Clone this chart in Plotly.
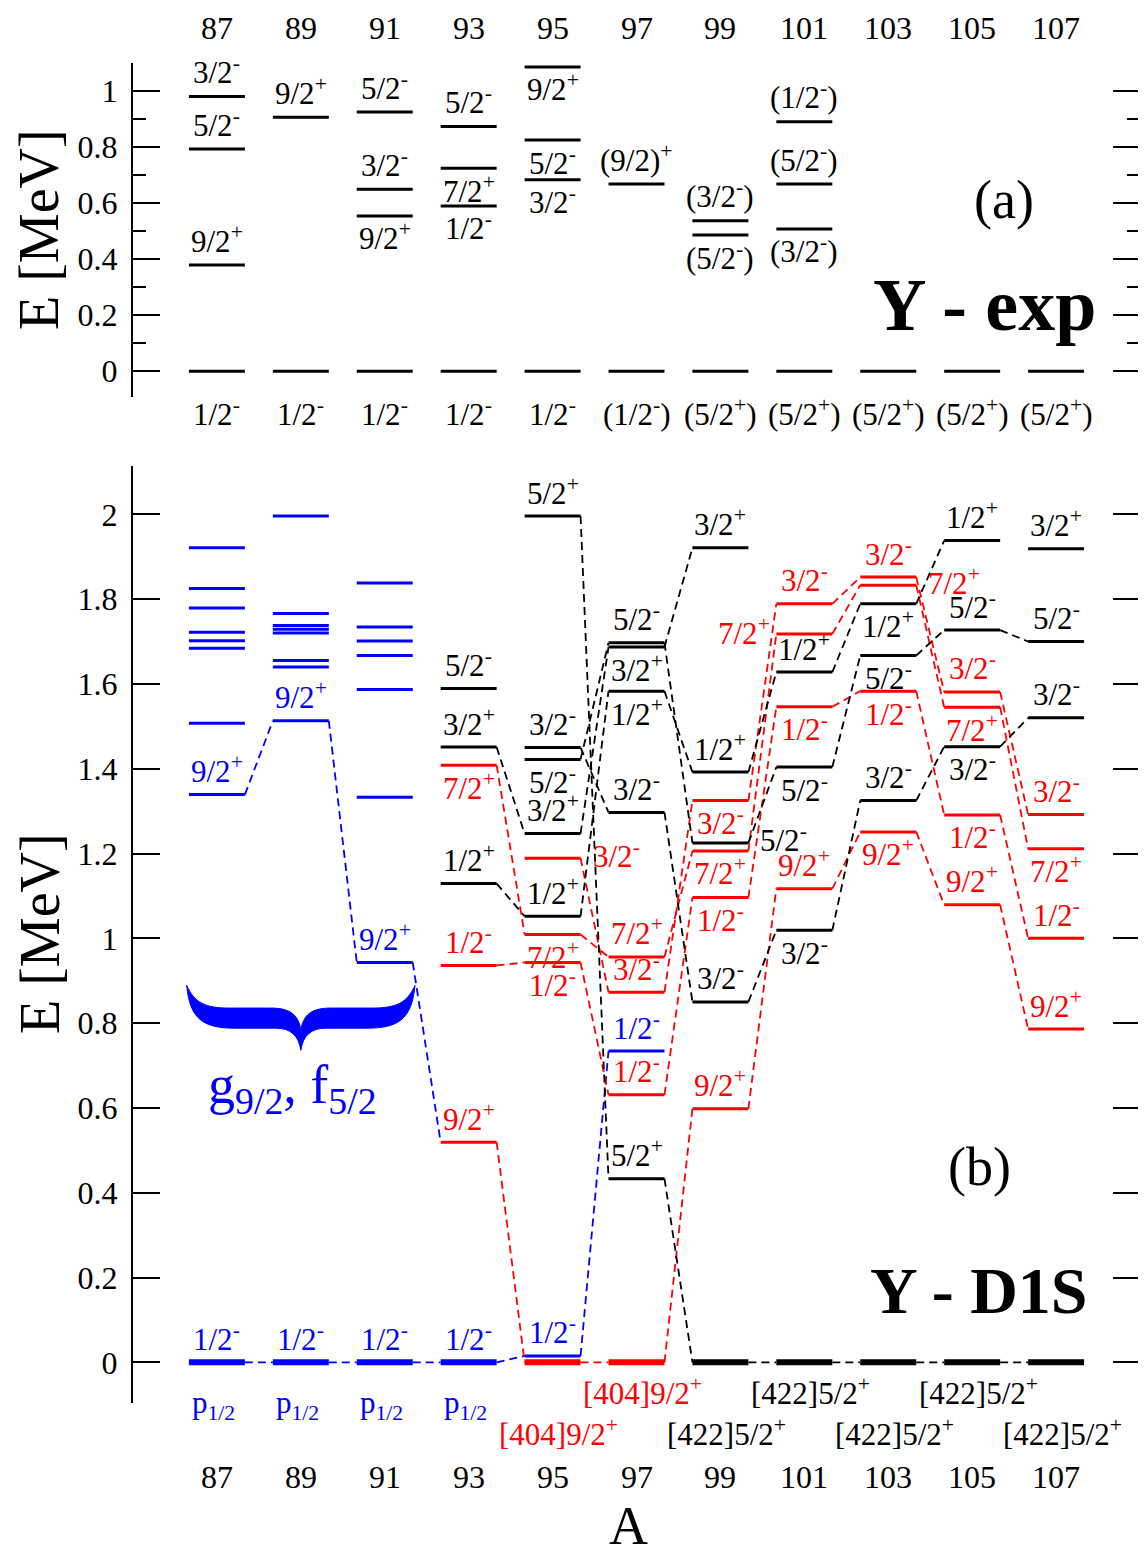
import plotly.graph_objects as go

# ---------------- data ----------------
A_LIST = [87, 89, 91, 93, 95, 97, 99, 101, 103, 105, 107]

# panel (a): experimental levels
exp_A = [87, 87, 87, 87,
         89, 89,
         91, 91, 91, 91,
         93, 93, 93, 93,
         95, 95, 95, 95,
         97, 97,
         99, 99, 99,
         101, 101, 101, 101,
         103, 105, 107]
exp_E = [0.0, 0.379, 0.793, 0.980,
         0.0, 0.906,
         0.0, 0.554, 0.649, 0.925,
         0.0, 0.590, 0.724, 0.873,
         0.0, 0.683, 0.825, 1.086,
         0.0, 0.668,
         0.0, 0.486, 0.537,
         0.0, 0.508, 0.668, 0.890,
         0.0, 0.0, 0.0]
exp_J = ["1/2-", "9/2+", "5/2-", "3/2-",
         "1/2-", "9/2+",
         "1/2-", "9/2+", "3/2-", "5/2-",
         "1/2-", "1/2-", "7/2+", "5/2-",
         "1/2-", "3/2-", "5/2-", "9/2+",
         "(1/2-)", "(9/2)+",
         "(5/2+)", "(5/2-)", "(3/2-)",
         "(5/2+)", "(3/2-)", "(5/2-)", "(1/2-)",
         "(5/2+)", "(5/2+)", "(5/2+)"]

# panel (b): D1S levels
blue_A = [87] * 9 + [89] * 9 + [91] * 8 + [93, 95, 97]
blue_E = [0.0, 1.339, 1.507, 1.684, 1.702, 1.722, 1.779, 1.825, 1.921,
          0.0, 1.513, 1.640, 1.655, 1.720, 1.729, 1.738, 1.766, 1.996,
          0.0, 0.943, 1.333, 1.587, 1.667, 1.701, 1.734, 1.838,
          0.0, 0.015, 0.734]
blue_J = ["1/2-", "9/2+", "", "", "", "", "", "", "",
          "1/2-", "9/2+", "", "", "", "", "", "", "",
          "1/2-", "9/2+", "", "", "", "", "", "",
          "1/2-", "1/2-", "1/2-"]
blue_band = ["p", "g", None, None, None, None, None, None, None,
             "p", "g", None, None, None, None, None, None, None,
             "p", "g", None, None, None, None, None, None,
             "p", "p", "p"]

red_A = [93, 93, 93,
         95, 95, 95, 95,
         97, 97, 97, 97,
         99, 99, 99, 99,
         101, 101, 101, 101,
         103, 103, 103, 103,
         105, 105, 105, 105,
         107, 107, 107, 107]
red_E = [1.408, 0.936, 0.519,
         1.189, 1.009, 0.943, 0.0,
         0.956, 0.873, 0.631, 0.0,
         1.325, 1.206, 1.096, 0.598,
         1.789, 1.718, 1.546, 1.117,
         1.852, 1.833, 1.583, 1.251,
         1.581, 1.545, 1.291, 1.079,
         1.292, 1.211, 1.000, 0.786]
red_J = ["7/2+", "1/2-", "9/2+",
         "3/2-", "7/2+", "1/2-", "[404]9/2+",
         "7/2+", "3/2-", "1/2-", "[404]9/2+",
         "3/2-", "7/2+", "1/2-", "9/2+",
         "3/2-", "7/2+", "1/2-", "9/2+",
         "3/2-", "7/2+", "1/2-", "9/2+",
         "3/2-", "7/2+", "1/2-", "9/2+",
         "3/2-", "7/2+", "1/2-", "9/2+"]
red_band = ["r7", "r1", "g",
            "r3", "r7", "r1", "g",
            "r7", "r3", "r1", "g",
            "r3", "r7", "r1", "g",
            "r3", "r7", "r1", "g",
            "r3", "r7", "r1", "g",
            "r3", "r7", "r1", "g",
            "r3", "r7", "r1", "g"]

black_A = [93, 93, 93,
           95, 95, 95, 95, 95,
           97, 97, 97, 97, 97,
           99, 99, 99, 99, 99,
           101, 101, 101, 101,
           103, 103, 103, 103,
           105, 105, 105, 105,
           107, 107, 107, 107]
black_E = [1.589, 1.451, 1.129,
           1.996, 1.450, 1.422, 1.247, 1.052,
           1.697, 1.687, 1.583, 1.297, 0.433,
           1.921, 1.392, 1.225, 0.850, 0.0,
           1.628, 1.404, 1.019, 0.0,
           1.789, 1.667, 1.325, 0.0,
           1.938, 1.727, 1.452, 0.0,
           1.919, 1.700, 1.520, 0.0]
black_J = ["5/2-", "3/2+", "1/2+",
           "5/2+", "3/2-", "5/2-", "3/2+", "1/2+",
           "5/2-", "3/2+", "1/2+", "3/2-", "5/2+",
           "3/2+", "1/2+", "5/2-", "3/2-", "[422]5/2+",
           "1/2+", "5/2-", "3/2-", "[422]5/2+",
           "1/2+", "5/2-", "3/2-", "[422]5/2+",
           "1/2+", "5/2-", "3/2-", "[422]5/2+",
           "3/2+", "5/2-", "3/2-", "[422]5/2+"]
black_band = [None, "k3p", "k1p",
              "k5p", "k3m", "k5m", "k3p", "k1p",
              "k5m", "k3p", "k1p", "k3m", "k5p",
              "k3p", "k1p", "k5m", "k3m", "k5p",
              "k1p", "k5m", "k3m", "k5p",
              "k1p", "k5m", "k3m", "k5p",
              "k1p", "k5m", "k3m", "k5p",
              None, "k5m", "k3m", "k5p"]

ORBITAL_LABEL = "p<sub>1/2</sub>"
BRACE_LABEL = "g<sub>9/2</sub>, f<sub>5/2</sub>"

# ---------------- styles (label placement codes) ----------------
exp_pos = ["G", "a", "a", "a",
           "G", "a",
           "G", "b", "a", "a",
           "G", "b", "b", "a",
           "G", "b", "b", "b",
           "G", "a",
           "G", "b", "a",
           "G", "b", "a", "a",
           "G", "G", "G"]
blue_pos = ["a"] * 29
red_pos = ["b", "a", "a",
           "r", "b", "b", "G2",
           "a", "a", "a", "G1",
           "b", "b", "b", "a",
           "a", "l", "b", "a",
           "a", "r", "b", "b",
           "a", "b", "b", "a",
           "a", "b", "a", "a"]
black_pos = ["a", "a", "a",
             "a", "a", "b", "a", "a",
             "a", "b", "b", "a", "a",
             "a", "a", "r", "a", "G2",
             "a", "b", "b", "G1",
             "b", "b", "a", "G2",
             "a", "a", "b", "G1",
             "a", "a", "a", "G2"]

BLUE, RED, BLACK = "#0000ff", "#ff0000", "#000000"
HW = 0.667          # half width of a level bar (in A units)
FONT = "Liberation Serif"
LSIZE = 31
OFF = 8             # page body margin of the browser
W, H = 1146 - OFF, 1558 - OFF

def py(screen_y):
    """paper fraction for a vertical screen position"""
    return 1 - (screen_y - OFF) / H

def fmt(j):
    return j.replace("+", "<sup>+</sup>").replace("-", "<sup>-</sup>")

fig = go.Figure()
annotations = []

def add_levels(A, E, color, xa, ya, width=3, gs_width=3):
    xs, ys, xg, yg = [], [], [], []
    for a, e in zip(A, E):
        if e == 0:
            xg += [a - HW, a + HW, None]; yg += [e, e, None]
        else:
            xs += [a - HW, a + HW, None]; ys += [e, e, None]
    fig.add_trace(go.Scatter(x=xs, y=ys, mode="lines", xaxis=xa, yaxis=ya,
                             line=dict(color=color, width=width), hoverinfo="skip"))
    fig.add_trace(go.Scatter(x=xg, y=yg, mode="lines", xaxis=xa, yaxis=ya,
                             line=dict(color=color, width=gs_width), hoverinfo="skip"))

def add_label(a, e, text, pos, color, xref, yref, gs_off=(-41, -29, -70), above=25, below=-21):
    kw = dict(x=a, y=e, xref=xref, yref=yref, text=fmt(text), showarrow=False,
              font=dict(family=FONT, size=LSIZE, color=color),
              xanchor="center", yanchor="middle")
    if pos == "a":
        kw["yshift"] = above
    elif pos == "b":
        kw["yshift"] = below
    elif pos == "r":
        kw.update(x=a + HW, xanchor="left", xshift=10, yshift=4)
    elif pos == "l":
        kw.update(x=a - HW, xanchor="right", xshift=-4, yshift=2)
    elif pos == "G":
        kw["yshift"] = gs_off[0]
    elif pos == "G1":
        kw.update(yshift=gs_off[1], xshift=6)
    elif pos == "G2":
        kw.update(yshift=gs_off[2], xshift=6)
    annotations.append(kw)

# ---------------- panel (a) ----------------
add_levels(exp_A, exp_E, BLACK, "x", "y", width=3, gs_width=3)
for a, e, j, p in zip(exp_A, exp_E, exp_J, exp_pos):
    add_label(a, e, j, p, BLACK, "x", "y", above=26, below=-21)

# ---------------- panel (b) ----------------
levels = []
for A, E, band, color in ((blue_A, blue_E, blue_band, BLUE),
                          (red_A, red_E, red_band, RED),
                          (black_A, black_E, black_band, BLACK)):
    for a, e, b in zip(A, E, band):
        levels.append((a, e, b, color))

# dashed connectors along each band (colour of the left-hand level)
bands = {}
for a, e, b, c in levels:
    if b is not None:
        bands.setdefault(b, []).append((a, e, c))
conn = {BLUE: ([], []), RED: ([], []), BLACK: ([], [])}
for b, lv in bands.items():
    lv.sort(key=lambda t: t[0])
    for (a1, e1, c1), (a2, e2, c2) in zip(lv[:-1], lv[1:]):
        conn[c1][0].extend([a1 + HW, a2 - HW, None])
        conn[c1][1].extend([e1, e2, None])
for c, (xs, ys) in conn.items():
    fig.add_trace(go.Scatter(x=xs, y=ys, mode="lines", xaxis="x2", yaxis="y2",
                             line=dict(color=c, width=1.8, dash="8px,5px"),
                             hoverinfo="skip"))

add_levels(blue_A, blue_E, BLUE, "x2", "y2", width=3, gs_width=6)
add_levels(red_A, red_E, RED, "x2", "y2", width=3, gs_width=6)
add_levels(black_A, black_E, BLACK, "x2", "y2", width=3, gs_width=6)

for A, E, J, P, c in ((blue_A, blue_E, blue_J, blue_pos, BLUE),
                      (red_A, red_E, red_J, red_pos, RED),
                      (black_A, black_E, black_J, black_pos, BLACK)):
    for a, e, j, p in zip(A, E, J, P):
        if j:
            add_label(a, e, j, p, c, "x2", "y2")

for a, e in zip(blue_A, blue_E):
    if e == 0:
        annotations.append(dict(x=a, y=e, xref="x2", yref="y2", text=ORBITAL_LABEL,
                                showarrow=False, yshift=-43, xshift=-3,
                                xanchor="center", yanchor="middle",
                                font=dict(family=FONT, size=LSIZE, color=BLUE)))

# curly brace under the g9/2, f5/2 multiplets
def brace_path(x0, x1, ytop, ytip):
    outer = [(0.0, 0.0), (0.013, 0.54), (0.08, 0.66), (0.21, 0.66), (0.39, 0.66),
             (0.455, 0.66), (0.49, 0.77), (0.5, 1.0)]
    inner = [(0.5, 0.69), (0.49, 0.46), (0.455, 0.35), (0.37, 0.35), (0.19, 0.35),
             (0.08, 0.35), (0.035, 0.27), (0.0, 0.0)]
    def P(u, v):
        return f"{x0 + u * (x1 - x0):.4f},{ytop - v * (ytop - ytip):.4f}"
    o = outer
    ro = [(1 - u, v) for (u, v) in reversed(o)]
    ri = [(1 - u, v) for (u, v) in reversed(inner)]
    d = "M" + P(*o[0])
    d += " C" + " ".join(P(*p) for p in o[1:4])
    d += " L" + P(*o[4])
    d += " C" + " ".join(P(*p) for p in o[5:8])
    d += " C" + " ".join(P(*p) for p in ro[1:4])
    d += " L" + P(*ro[4])
    d += " C" + " ".join(P(*p) for p in ro[5:8])
    d += " C" + " ".join(P(*p) for p in ri[1:4])
    d += " L" + P(*ri[4])
    d += " C" + " ".join(P(*p) for p in ri[5:8])
    d += " C" + " ".join(P(*p) for p in inner[1:4])
    d += " L" + P(*inner[4])
    d += " C" + " ".join(P(*p) for p in inner[5:8])
    return d + " Z"

shapes = [dict(type="path", xref="x2", yref="y2",
               path=brace_path(A_LIST[0] - 0.72, A_LIST[2] + 0.72, 0.889, 0.736),
               fillcolor=BLUE, line=dict(color=BLUE, width=1))]

annotations.append(dict(x=(A_LIST[0] + A_LIST[2]) / 2 - 0.2, y=0.645, xref="x2", yref="y2",
                        text=BRACE_LABEL, showarrow=False,
                        xanchor="center", yanchor="middle",
                        font=dict(family=FONT, size=54, color=BLUE)))

# ---------------- A labels ----------------
for a in A_LIST:
    annotations.append(dict(x=a, y=1.0, xref="x", yref="paper", text=str(a),
                            showarrow=False, xanchor="center", yanchor="top",
                            font=dict(family=FONT, size=32)))
    annotations.append(dict(x=a, y=py(1477), xref="x2", yref="paper", text=str(a),
                            showarrow=False, xanchor="center", yanchor="middle",
                            font=dict(family=FONT, size=32)))
annotations.append(dict(x=96.8, y=0.0, xref="x2", yref="paper", text="A",
                        showarrow=False, xanchor="center", yanchor="bottom",
                        font=dict(family=FONT, size=54)))

# titles / panel tags
annotations += [
    dict(x=105.76, y=0.611, xref="x", yref="y", text="(a)", showarrow=False,
         xanchor="center", yanchor="middle", font=dict(family=FONT, size=54)),
    dict(x=105.3, y=0.236, xref="x", yref="y", text="<b>Y - exp</b>", showarrow=False,
         xanchor="center", yanchor="middle", font=dict(family=FONT, size=74)),
    dict(x=105.17, y=0.46, xref="x2", yref="y2", text="(b)", showarrow=False,
         xanchor="center", yanchor="middle", font=dict(family=FONT, size=54)),
    dict(x=105.17, y=0.17, xref="x2", yref="y2", text="<b>Y - D1S</b>", showarrow=False,
         xanchor="center", yanchor="middle", font=dict(family=FONT, size=66)),
    dict(x=0, xref="paper", xshift=-94, y=py(230), yref="paper", text="E [MeV]",
         xanchor="center", yanchor="middle",
         textangle=-90, showarrow=False, font=dict(family=FONT, size=56)),
    dict(x=0, xref="paper", xshift=-93, y=py(934), yref="paper", text="E [MeV]",
         xanchor="center", yanchor="middle",
         textangle=-90, showarrow=False, font=dict(family=FONT, size=56)),
]

ya = dict(showline=True, linewidth=2, linecolor="black", mirror="ticks",
          ticks="inside", ticklen=27, tickwidth=2, tickcolor="black",
          showgrid=False, zeroline=False, ticklabelstandoff=7,
          tickfont=dict(family=FONT, size=32, color="black"))
xa = dict(range=[85, 109], visible=False, showgrid=False, zeroline=False)

fig.update_layout(
    width=W, height=H,
    margin=dict(l=133 - OFF, r=6, t=0, b=0, autoexpand=False),
    plot_bgcolor="white", paper_bgcolor="white",
    showlegend=False, hovermode=False,
    font=dict(family=FONT, color="black"),
    xaxis=dict(**xa, domain=[0, 1], anchor="y"),
    xaxis2=dict(**xa, domain=[0, 1], anchor="y2"),
    yaxis=dict(**ya, domain=[py(397), py(63)], range=[-0.092, 1.1], anchor="x",
               tickvals=[0, 0.2, 0.4, 0.6, 0.8, 1.0],
               ticktext=["0", "0.2", "0.4", "0.6", "0.8", "1"],
               minor=dict(ticks="inside", ticklen=13, tickwidth=2, tickcolor="black",
                          tickvals=[0.1, 0.3, 0.5, 0.7, 0.9, 1.1], showgrid=False)),
    yaxis2=dict(**ya, domain=[py(1403), py(466)], range=[-0.096, 2.114],
                anchor="x2",
                tickvals=[0, 0.2, 0.4, 0.6, 0.8, 1.0, 1.2, 1.4, 1.6, 1.8, 2.0],
                ticktext=["0", "0.2", "0.4", "0.6", "0.8", "1", "1.2", "1.4", "1.6", "1.8", "2"]),
    annotations=annotations,
    shapes=shapes,
)

fig.write_html("out.html")
